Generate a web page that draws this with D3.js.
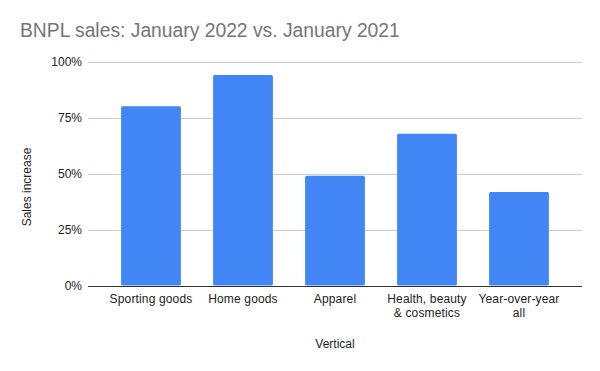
<!DOCTYPE html>
<html>
<head>
<meta charset="utf-8">
<script src="https://cdn.jsdelivr.net/npm/d3@7"></script>
<style>
  body { margin: 0; background: #fff; }
  svg { display: block; font-family: Arial, "Liberation Sans", sans-serif; }
</style>
</head>
<body>
<div id="chart"></div>
<script>
const categories = [
  ['Sporting goods'],
  ['Home goods'],
  ['Apparel'],
  ['Health, beauty', '& cosmetics'],
  ['Year-over-year', 'all']
];
const salesIncrease = [0.80, 0.94, 0.49, 0.677, 0.417];
const yTicks = [0, 0.25, 0.5, 0.75, 1];

const width = 600, height = 371;
const plot = { left: 88, right: 582, top: 61.5, bottom: 285.5 };

const svg = d3.select('#chart')
  .append('svg')
  .attr('width', width)
  .attr('height', height);

const keys = categories.map((d) => d.join(' '));

const x = d3.scaleBand()
  .domain(keys)
  .range([105, 565])
  .paddingInner(0.35)
  .paddingOuter(0.175);

const y = d3.scaleLinear()
  .domain([0, 1])
  .range([plot.bottom, plot.top]);

// title
svg.append('text')
  .attr('x', 20)
  .attr('y', 37)
  .attr('fill', '#757575')
  .style('font-size', '19.3px')
  .text('BNPL sales: January 2022 vs. January 2021');

// gridlines
svg.append('g')
  .selectAll('line')
  .data(yTicks.filter((d) => d > 0))
  .enter()
  .append('line')
  .attr('x1', plot.left)
  .attr('x2', plot.right)
  .attr('y1', (d) => Math.round(y(d)) + 0.5)
  .attr('y2', (d) => Math.round(y(d)) + 0.5)
  .attr('stroke', '#cccccc');

// y tick labels
svg.append('g')
  .selectAll('text')
  .data(yTicks)
  .enter()
  .append('text')
  .attr('x', 82)
  .attr('y', (d) => y(d) + 4)
  .attr('text-anchor', 'end')
  .attr('fill', '#222')
  .style('font-size', '12px')
  .text(d3.format('.0%'));

// bars
svg.append('g')
  .selectAll('rect')
  .data(salesIncrease)
  .enter()
  .append('rect')
  .attr('x', (d, i) => x(keys[i]))
  .attr('y', (d) => y(d))
  .attr('width', x.bandwidth())
  .attr('height', (d) => y(0) - y(d))
  .attr('rx', 1.5)
  .attr('fill', '#4285f4');

// baseline
svg.append('line')
  .attr('x1', plot.left)
  .attr('x2', plot.right)
  .attr('y1', Math.round(y(0)) + 0.5)
  .attr('y2', Math.round(y(0)) + 0.5)
  .attr('stroke', '#333');

// x tick labels
const xl = svg.append('g')
  .selectAll('text')
  .data(categories)
  .enter()
  .append('text')
  .attr('x', (d) => x(d.join(' ')) + x.bandwidth() / 2)
  .attr('y', 303)
  .attr('text-anchor', 'middle')
  .attr('fill', '#222')
  .style('font-size', '12px')
  .style('letter-spacing', '0.15px');

xl.selectAll('tspan')
  .data((d) => d)
  .enter()
  .append('tspan')
  .attr('x', function () { return d3.select(this.parentNode).attr('x'); })
  .attr('dy', (d, i) => (i === 0 ? 0 : 14))
  .text((d) => d);

// axis titles
svg.append('text')
  .attr('x', x(keys[2]) + x.bandwidth() / 2)
  .attr('y', 348)
  .attr('text-anchor', 'middle')
  .attr('fill', '#222')
  .style('font-size', '12px')
  .text('Vertical');

svg.append('text')
  .attr('transform', 'translate(31,187) rotate(-90)')
  .attr('text-anchor', 'middle')
  .attr('fill', '#222')
  .style('font-size', '12px')
  .text('Sales increase');
</script>
</body>
</html>
